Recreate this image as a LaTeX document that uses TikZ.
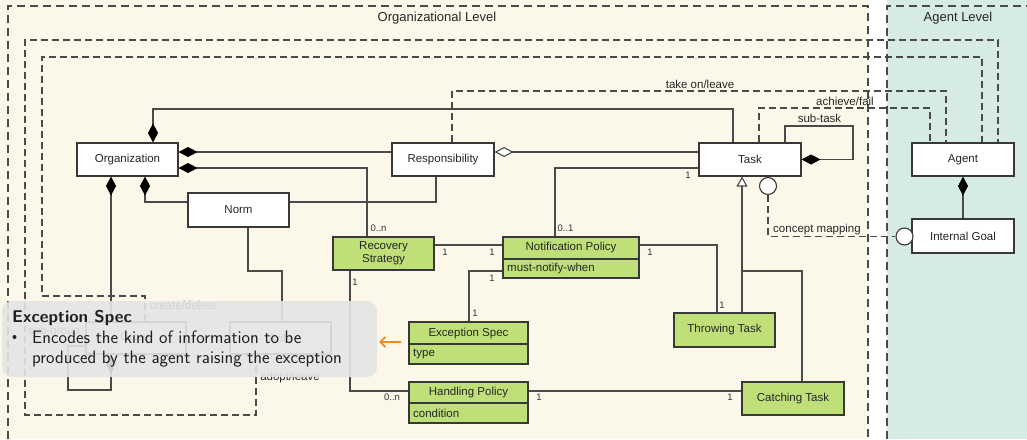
\documentclass[tikz,border=0pt]{standalone}
\usepackage{fontspec}
\setmainfont{Liberation Sans}
\usetikzlibrary{arrows.meta,calc}
\definecolor{cream}{HTML}{FBF8E9}
\definecolor{tealbg}{HTML}{D6EBE4}
\definecolor{grn}{HTML}{BFDF78}
\definecolor{ln}{HTML}{4A4A4A}
\definecolor{bx}{HTML}{383838}
\definecolor{orangearr}{HTML}{F0892A}
\definecolor{ovl}{HTML}{E4E5E5}
\begin{document}
\begin{tikzpicture}[x=1pt,y=-1pt,
  font=\fontsize{11.5}{13}\selectfont,
  umlbox/.style={draw=bx, line width=1.1pt, fill=white, inner sep=0pt, text=black!85, align=center},
  gbox/.style={umlbox, fill=grn},
  conn/.style={draw=ln, line width=1.1pt},
  dconn/.style={conn, dash pattern=on 7pt off 4pt},
  comp/.style={conn, {Diamond[width=10pt,length=19pt,color=black]}-},
  agg/.style={conn, {Diamond[open,width=10pt,length=19pt,fill=white]}-},
  inh/.style={conn, {Triangle[open,width=11pt,length=10pt,fill=white]}-},
  mult/.style={font=\fontsize{9.5}{11}\selectfont, text=black!80, inner sep=0pt},
  elab/.style={font=\fontsize{11.5}{13}\selectfont, text=black!85, inner sep=0pt},
  ttl/.style={font=\fontsize{13}{15}\selectfont, text=black!85, inner sep=0pt},
  ovtext/.style={anchor=base west, inner sep=0pt, text=black!88, font=\sffamily\fontsize{18}{21}\selectfont},
  lolli/.style={circle, draw=bx, line width=1.1pt, fill=white, minimum size=17pt, inner sep=0pt},
  border/.style={draw=ln, line width=1.1pt, dash pattern=on 8pt off 5pt}
]
% backgrounds
\fill[cream] (0,0) rectangle (868,439);
\fill[white] (868,0) rectangle (887,439);
\fill[tealbg] (887,0) rectangle (1027,439);
\useasboundingbox (0,0) rectangle (1027,439);
\draw[border] (8,439) -- (8,6) -- (868,6) -- (868,439);
\draw[border] (887,439) -- (887,6) -- (1027,6);
\node[ttl] (orglvl) at (437,18) {Organizational Level};
\node[ttl] (aglvl) at (958,18) {Agent Level};

% nodes
\node[umlbox, minimum width=101pt, minimum height=33pt] (org) at (127.5,159.5) {Organization};
\node[umlbox, minimum width=102pt, minimum height=33pt] (resp) at (443,159.5) {Responsibility};
\node[umlbox, minimum width=102pt, minimum height=33pt] (task) at (750,159.5) {Task};
\node[umlbox, minimum width=102pt, minimum height=33pt] (agent) at (963,159.5) {Agent};
\node[umlbox, minimum width=102pt, minimum height=34pt] (igoal) at (963,236) {Internal Goal};
\node[umlbox, minimum width=101pt, minimum height=34pt] (norm) at (238.5,210) {Norm};
\node[umlbox, minimum width=100pt, minimum height=32pt] (group) at (136,338) {Group};
\node[umlbox, minimum width=101pt, minimum height=32pt] (role) at (280.5,338) {Role};
\node[gbox, minimum width=101pt, minimum height=33pt] (rec) at (383.5,253.5) {Recovery\\Strategy};
\node[gbox, minimum width=136pt, minimum height=41pt] (np) at (571,257.5) {};
\draw[bx, line width=1.1pt] (np.west |- 0,259) -- (np.east |- 0,259);
\node[elab] (npt) at (571,248) {Notification Policy};
\node[elab, anchor=west] (npa) at (507,269) {must-notify-when};
\node[gbox, minimum width=119pt, minimum height=42pt] (exc) at (468.5,343) {};
\draw[bx, line width=1.1pt] (exc.west |- 0,344) -- (exc.east |- 0,344);
\node[elab] (exct) at (468.5,333.5) {Exception Spec};
\node[elab, anchor=west] (exca) at (413,354) {type};
\node[gbox, minimum width=119pt, minimum height=41pt] (hp) at (468.5,402.5) {};
\draw[bx, line width=1.1pt] (hp.west |- 0,403) -- (hp.east |- 0,403);
\node[elab] (hpt) at (468.5,393) {Handling Policy};
\node[elab, anchor=west] (hpa) at (413,413) {condition};
\node[gbox, minimum width=101pt, minimum height=34pt] (throw) at (724.5,330) {Throwing Task};
\node[gbox, minimum width=102pt, minimum height=33pt] (catch) at (793,398.5) {Catching Task};
\node[lolli] (tl) at (768,186) {};
\node[lolli] (gl) at (904.5,236.5) {};

% solid connectors
\draw[comp] (org.north -| 153,0) -- (153,109) -| (task.north -| 733,0);
\draw[comp] (org.east |- 0,152) -- (resp.west |- 0,152);
\draw[comp] (org.east |- 0,168) -| (rec.north -| 367,0);
\draw[comp] (org.south -| 145,0) |- (norm.west |- 0,202);
\draw[comp] (org.south -| 111,0) -- (group.north -| 111,0);
\draw[conn] (norm.east |- 0,202) -| (resp.south -| 436,0);
\draw[conn] (norm.south -| 248,0) -- (248,271) -| (role.north -| 282,0);
\draw[agg] (resp.east |- 0,152) -- (task.west |- 0,152);
\draw[conn] (task.west |- 0,168) -| (np.north -| 555,0);
\draw[conn] (rec.east |- 0,245) -- (np.west |- 0,245);
\draw[conn] (np.west |- 0,271) -| (exc.north -| 469,0);
\draw[conn] (np.east |- 0,245) -| (throw.north -| 717,0);
\draw[inh] (task.south -| 742,0) -- (throw.north -| 742,0);
\coordinate (junc) at (742,271);
\draw[conn] (junc) -| (catch.north -| 802,0);
\draw[conn] (rec.south -| 350,0) |- (hp.west |- 0,391);
\draw[conn] (hp.east |- 0,391) -- (catch.west |- 0,391);
\draw[comp] (agent.south) -- (igoal.north);
\draw[comp] (task.east) -| (853,126) -| (task.north -| 785,0);
\draw[comp] (group.south -| 111,0) -- (111,390) -- (68,390) -- (68,346) -- (group.west |- 0,346);

% dashed connectors
\draw[dconn] (tl.south) |- (gl.west);
\draw[dconn] (resp.north -| 452,0) -- (452,91) -| (agent.north -| 946,0);
\draw[dconn] (task.north -| 759,0) -- (759,108) -| (agent.north -| 930,0);
\draw[dconn] (group.north -| 145,0) -- (145,296) -- (42,296) -- (42,57) -| (agent.north -| 982,0);
\draw[dconn] (role.south -| 256,0) -- (256,415) -- (25,415) -- (25,40) -| (agent.north -| 998,0);

% edge labels
\node[elab] (l1) at (700,84) {take on/leave};
\node[elab] (l2) at (845,101) {achieve/fail};
\node[elab] (l3) at (819.5,118) {sub-task};
\node[elab] (l4) at (817,230) {concept mapping};
\node[elab] (l5) at (183,305) {create/delete};
\node[elab] (l6) at (54,332) {sub-group};
\node[elab] (l7) at (290,378) {adopt/leave};

% multiplicities
\node[mult] (m1) at (378.5,228) {0..n};
\node[mult] (m2) at (688,175) {1};
\node[mult] (m3) at (565.5,228) {0..1};
\node[mult] (m4) at (445,252) {1};
\node[mult] (m5) at (492,252) {1};
\node[mult] (m6) at (492,278) {1};
\node[mult] (m7) at (475,313) {1};
\node[mult] (m8) at (650,252) {1};
\node[mult] (m9) at (722,305) {1};
\node[mult] (m10) at (355,282) {1};
\node[mult] (m11) at (392,397) {0..n};
\node[mult] (m12) at (539,397) {1};
\node[mult] (m13) at (730,397) {1};

% overlay callout
\fill[ovl, fill opacity=0.9, rounded corners=10pt] (2,301) rectangle (377,377);
\node[anchor=base west, inner sep=0pt, text=black!88, font=\sffamily\bfseries\fontsize{17}{20}\selectfont] (ovt) at (12,322) {Exception Spec};
\fill[black!88] (14.5,337) circle (2pt);
\node[ovtext] (ov1) at (32,343) {Encodes the kind of information to be};
\node[ovtext] (ov2) at (32,363) {produced by the agent raising the exception};
\coordinate (arrend) at (379,342);
\draw[orangearr, line width=1.8pt, -{Straight Barb[length=5pt,width=10pt]}] ($(exc.west)+(-7,-1)$) -- (arrend);
\end{tikzpicture}
\end{document}
